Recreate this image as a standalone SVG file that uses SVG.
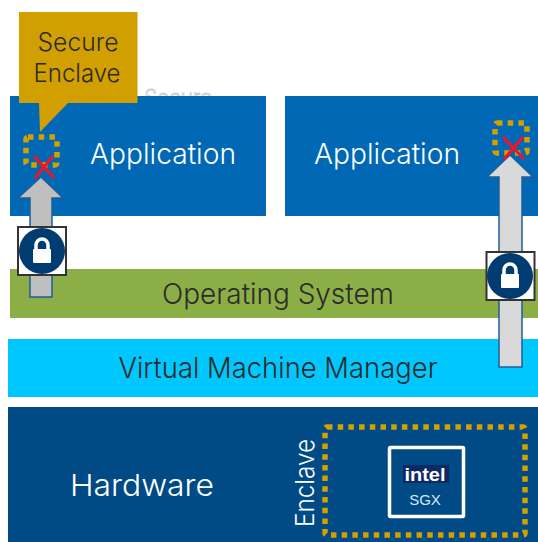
<svg xmlns="http://www.w3.org/2000/svg" width="538" height="542" viewBox="0 0 538 542">
<style>
text{font-family:"Inter","Open Sans","Liberation Sans",sans-serif;text-anchor:middle;font-weight:300}
.w{fill:#fff}.d{fill:#2b2b2b}.big{font-size:28.500px}
.dot{fill:none;stroke:#d4a000;stroke-width:5.500;stroke-dasharray:5.500 5.200}
.x{fill:none;stroke:#f01424;stroke-width:3}
.lockbox{fill:#fff;stroke:#333;stroke-width:2}
.circ{fill:#003c71}
.lock{fill:#fff}
.shackle{fill:none;stroke:#fff;stroke-width:3.500}
.arr{stroke:#1c5f98;stroke-width:1.500}
</style>
<rect width="538" height="542" fill="#fff"/>
<text x="178" y="105" font-size="22" fill="#fff" stroke="#c8c8c8" stroke-width="0.8" textLength="68" lengthAdjust="spacingAndGlyphs" id="ghost">Secure</text>
<g id="app1"><rect x="10" y="96" width="256" height="120" fill="#0068b5"/><text class="w big" x="163" y="164" textLength="146" lengthAdjust="spacingAndGlyphs">Application</text></g>
<g id="app2"><rect x="285" y="96" width="253" height="120" fill="#0068b5"/><text class="w big" x="387" y="164" textLength="146" lengthAdjust="spacingAndGlyphs">Application</text></g>
<g id="os"><rect x="10" y="269" width="528" height="49" fill="#8bae46"/><text class="d big" x="278" y="304" textLength="232" lengthAdjust="spacingAndGlyphs">Operating System</text></g>
<g id="vmm"><rect x="8" y="339" width="530" height="58" fill="#00c7fd"/><text class="d big" x="278" y="378" textLength="319" lengthAdjust="spacingAndGlyphs">Virtual Machine Manager</text></g>
<g id="hardware"><rect x="8" y="407" width="530" height="135" fill="#004a86"/><text class="w" font-size="30" x="142" y="496" textLength="144" lengthAdjust="spacingAndGlyphs">Hardware</text>
<text class="w" font-size="26" transform="translate(314 483) rotate(-90)" textLength="88" lengthAdjust="spacingAndGlyphs">Enclave</text></g>
<g id="callout"><path d="M19 12H137.500V103H68L40 132L39 103H19Z" fill="#d29f00"/><text class="d" font-size="25" x="78" y="51" textLength="81" lengthAdjust="spacingAndGlyphs">Secure</text><text class="d" font-size="25" x="77" y="82" textLength="87" lengthAdjust="spacingAndGlyphs">Enclave</text></g>
<g id="enclave1"><rect class="dot" x="26" y="137" width="31" height="28" rx="2"/></g>
<g id="enclave2"><rect class="dot" x="495" y="123" width="32" height="30" rx="2"/></g>
<g id="enclave3"><rect class="dot" x="325" y="427" width="200" height="108" rx="2"/></g>
<g id="sgx"><rect x="389.500" y="447.500" width="74" height="69" fill="#004a86" stroke="#fff" stroke-width="3.500" rx="1"/>
<rect x="403" y="465" width="46" height="18" fill="#0d2a63"/>
<text class="w" font-size="19" x="425" y="481" textLength="41" lengthAdjust="spacingAndGlyphs" style="font-family:'Liberation Sans',sans-serif;font-weight:700">intel</text>
<text font-size="15" x="425" y="505" fill="#d9e6f2" style="font-family:'Liberation Sans',sans-serif;font-weight:400">SGX</text></g>
<g id="connectors">
<path class="arr" fill="#bfbfbf" d="M41 177L63 198H52V297H30V198H18Z"/>
<path class="arr" fill="#d9d9d9" d="M510 155L533 177H522V367H499V177H487Z"/>
<path class="x" d="M34 156L54 178M53 156L35 178"/>
<path class="x" d="M503 137L524 159M523 137L504 159"/>
</g>
<g id="lock1"><rect class="lockbox" x="18" y="227" width="48" height="48"/><circle class="circ" cx="42" cy="251" r="23"/><path class="shackle" d="M36 250V245A6 6 0 0 1 48 245V250"/><rect class="lock" x="33" y="249" width="18" height="14" rx="1"/></g>
<g id="lock2"><rect class="lockbox" x="486.500" y="252" width="48" height="48"/><circle class="circ" cx="510" cy="276" r="23"/><path class="shackle" d="M504 275V270A6 6 0 0 1 516 270V275"/><rect class="lock" x="501" y="274" width="18" height="14" rx="1"/></g>
</svg>
